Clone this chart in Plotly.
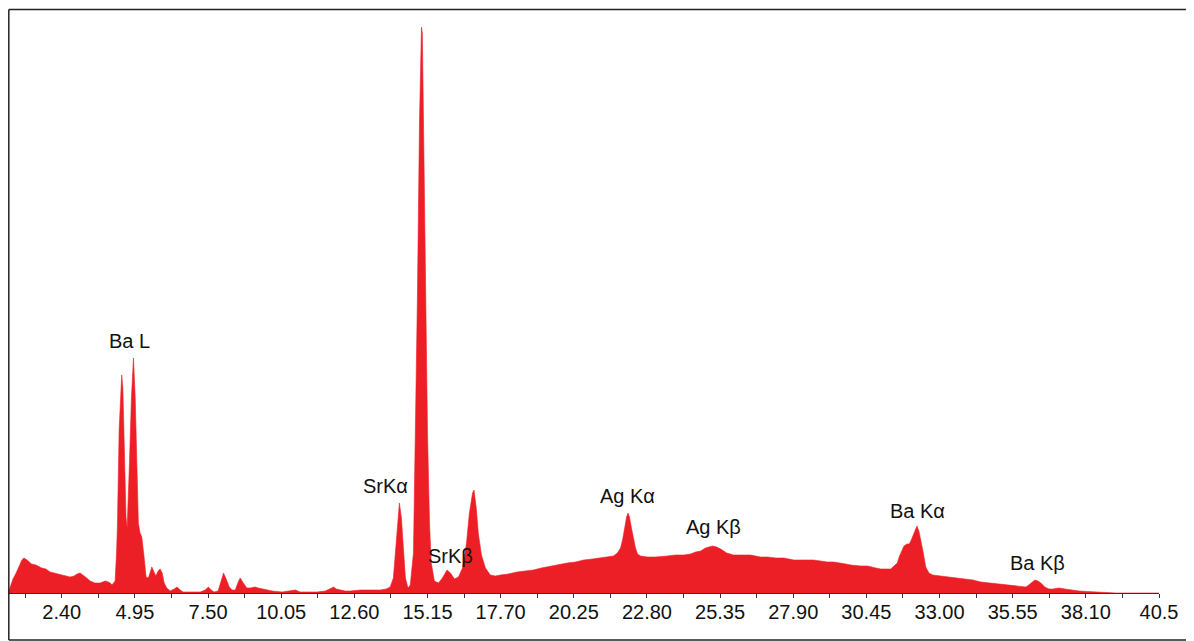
import plotly.graph_objects as go

# Energy (keV) and counts
energy_kev = [
    0.53, 0.60, 0.70, 0.81, 0.91, 1.01, 1.08, 1.19, 1.35, 1.50, 1.70, 1.85, 1.99, 2.13, 2.28,
    2.41, 2.55, 2.69, 2.83, 2.93, 3.04, 3.14, 3.27, 3.39, 3.56, 3.74, 3.91, 4.02, 4.09, 4.15,
    4.26, 4.31, 4.34, 4.40, 4.46, 4.49, 4.53, 4.57, 4.64, 4.68, 4.71, 4.76, 4.83, 4.90, 4.96,
    5.02, 5.07, 5.13, 5.19, 5.27, 5.34, 5.42, 5.48, 5.54, 5.60, 5.68, 5.76, 5.83, 5.90, 5.97,
    6.06, 6.18, 6.32, 6.42, 6.53, 6.63, 6.88, 7.23, 7.40, 7.51, 7.61, 7.71, 7.85, 7.96, 8.04,
    8.13, 8.24, 8.34, 8.45, 8.55, 8.62, 8.73, 8.85, 8.97, 9.14, 9.25, 9.39, 9.55, 9.74, 10.08,
    10.37, 10.54, 10.71, 11.06, 11.30, 11.59, 11.76, 11.88, 11.97, 12.11, 12.28, 12.46, 12.81,
    13.16, 13.51, 13.71, 13.85, 13.96, 14.06, 14.17, 14.24, 14.31, 14.38, 14.47, 14.55, 14.66,
    14.73, 14.80, 14.87, 14.94, 14.97, 15.02, 15.08, 15.15, 15.22, 15.28, 15.39, 15.53, 15.67,
    15.83, 15.95, 16.09, 16.23, 16.37, 16.51, 16.61, 16.72, 16.77, 16.85, 16.92, 17.03, 17.17,
    17.34, 17.52, 17.69, 17.97, 18.27, 18.56, 18.84, 19.12, 19.44, 19.72, 20.02, 20.31, 20.60,
    20.90, 21.18, 21.43, 21.63, 21.77, 21.88, 21.95, 22.02, 22.09, 22.14, 22.19, 22.26, 22.33,
    22.40, 22.47, 22.58, 22.81, 23.10, 23.51, 23.80, 24.09, 24.32, 24.50, 24.67, 24.84, 25.08,
    25.23, 25.37, 25.58, 25.82, 26.14, 26.41, 26.76, 27.00, 27.29, 27.57, 27.92, 28.16, 28.61,
    29.09, 29.31, 29.73, 29.90, 30.25, 30.49, 30.78, 30.95, 31.18, 31.30, 31.41, 31.53, 31.59,
    31.68, 31.76, 31.86, 31.94, 32.00, 32.06, 32.14, 32.21, 32.28, 32.35, 32.42, 32.52, 32.63,
    32.76, 33.04, 33.28, 33.57, 33.86, 34.16, 34.44, 34.79, 35.14, 35.59, 36.01, 36.11, 36.22,
    36.32, 36.43, 36.53, 36.67, 36.81, 36.95, 37.16, 37.37, 37.58, 37.86, 38.16, 38.63, 38.98,
    39.15, 40.65,
]
counts = [
    0, 6, 14, 20, 27, 33, 35, 33, 29, 28, 25, 24, 21, 20, 19,
    18, 17, 16, 17, 19, 20, 18, 15, 12, 10, 10, 12, 11, 10, 8,
    12, 40, 67, 163, 210, 218, 205, 163, 76, 65, 85, 130, 196, 235, 196,
    130, 70, 60, 56, 36, 16, 15, 22, 26, 22, 17, 22, 24, 20, 10,
    5, 2, 4, 6, 3, 1, 1, 1, 3, 6, 3, 1, 2, 12, 20,
    14, 6, 3, 3, 11, 15, 10, 5, 5, 6, 5, 4, 3, 2, 1,
    2, 3, 1, 1, 1, 2, 4, 6, 4, 3, 2, 2, 3,
    3, 3, 4, 6, 15, 55, 90, 75, 40, 15, 5, 8, 40,
    150, 300, 470, 566, 560, 450, 300, 160, 70, 30, 12, 10, 15,
    23, 20, 14, 16, 25, 50, 80, 100, 103, 85, 60, 38, 25,
    18, 17, 18, 19, 21, 22, 23, 25, 27, 28, 30, 31, 33,
    34, 35, 36, 37, 40, 45, 53, 65, 76, 80, 76, 65, 55,
    45, 39, 37, 36, 36, 37, 38, 38, 39, 41, 42, 45, 47,
    46, 44, 40, 38, 38, 38, 36, 36, 35, 35, 33, 33, 33,
    31, 31, 29, 28, 27, 27, 25, 24, 24, 24, 27, 30, 36,
    42, 47, 49, 49, 52, 56, 63, 67, 62, 53, 42, 26, 20,
    18, 17, 16, 15, 14, 13, 11, 10, 9, 7, 6, 8, 11,
    13, 12, 10, 6, 4, 4, 5, 4, 3, 2, 1.5, 1, 0.5,
    0, 0,
]

peak_labels = ["Ba L", "SrKα", "SrKβ", "Ag Kα", "Ag Kβ", "Ba Kα", "Ba Kβ"]
peak_label_x = [4.75, 13.68, 15.95, 22.12, 25.12, 32.22, 36.43]
peak_label_y = [252, 107, 37, 97, 66, 82, 30]

tick_vals = [1.125, 2.40, 3.675, 4.95, 6.225, 7.50, 8.775, 10.05, 11.325, 12.60,
             13.875, 15.15, 16.425, 17.70, 18.975, 20.25, 21.525, 22.80, 24.075,
             25.35, 26.625, 27.90, 29.175, 30.45, 31.725, 33.00, 34.275, 35.55,
             36.825, 38.10, 39.375, 40.65]
tick_text = ["", "2.40", "", "4.95", "", "7.50", "", "10.05", "", "12.60",
             "", "15.15", "", "17.70", "", "20.25", "", "22.80", "",
             "25.35", "", "27.90", "", "30.45", "", "33.00", "", "35.55",
             "", "38.10", "", "40.5"]

RED = "#ED1F26"
FONT = "Liberation Sans, Arial, Helvetica, sans-serif"

fig = go.Figure()
fig.add_trace(go.Scatter(
    x=energy_kev, y=counts, mode="lines", fill="tozeroy",
    line=dict(color=RED, width=0.6), fillcolor=RED, hoverinfo="x+y",
))

for t, x, y in zip(peak_labels, peak_label_x, peak_label_y):
    fig.add_annotation(x=x, y=y, text=t, showarrow=False,
                       font=dict(family=FONT, size=20, color="#111"),
                       xanchor="center", yanchor="middle")

# frame around the chart (right side runs past the window edge)
line_style = dict(color="#222", width=1.5)
x_left = 0.0007
x_right = 1.04
y_top = 1.0009
y_bot = -0.0806
fig.add_shape(type="line", xref="paper", yref="paper", x0=x_left, x1=x_left, y0=y_bot, y1=y_top, line=line_style)
fig.add_shape(type="line", xref="paper", yref="paper", x0=x_left, x1=x_right, y0=y_top, y1=y_top, line=line_style)
fig.add_shape(type="line", xref="paper", yref="paper", x0=x_left, x1=x_right, y0=y_bot, y1=y_bot, line=line_style)

fig.update_layout(
    width=1186, height=633,
    margin=dict(l=0, r=35, t=2, b=48),
    paper_bgcolor="white", plot_bgcolor="white",
    showlegend=False,
    xaxis=dict(range=[0.526, 40.65], tickmode="array", tickvals=tick_vals, ticktext=tick_text,
               ticks="outside", ticklen=4, tickwidth=1, tickcolor="#333", ticklabelstandoff=-3,
               showline=True, linecolor="#333", linewidth=1, showgrid=False, zeroline=False,
               tickfont=dict(family=FONT, size=20, color="#111")),
    yaxis=dict(range=[0, 583], visible=False, showgrid=False, zeroline=False),
)

fig.write_html("out.html", post_script="document.documentElement.style.overflow='hidden';")
